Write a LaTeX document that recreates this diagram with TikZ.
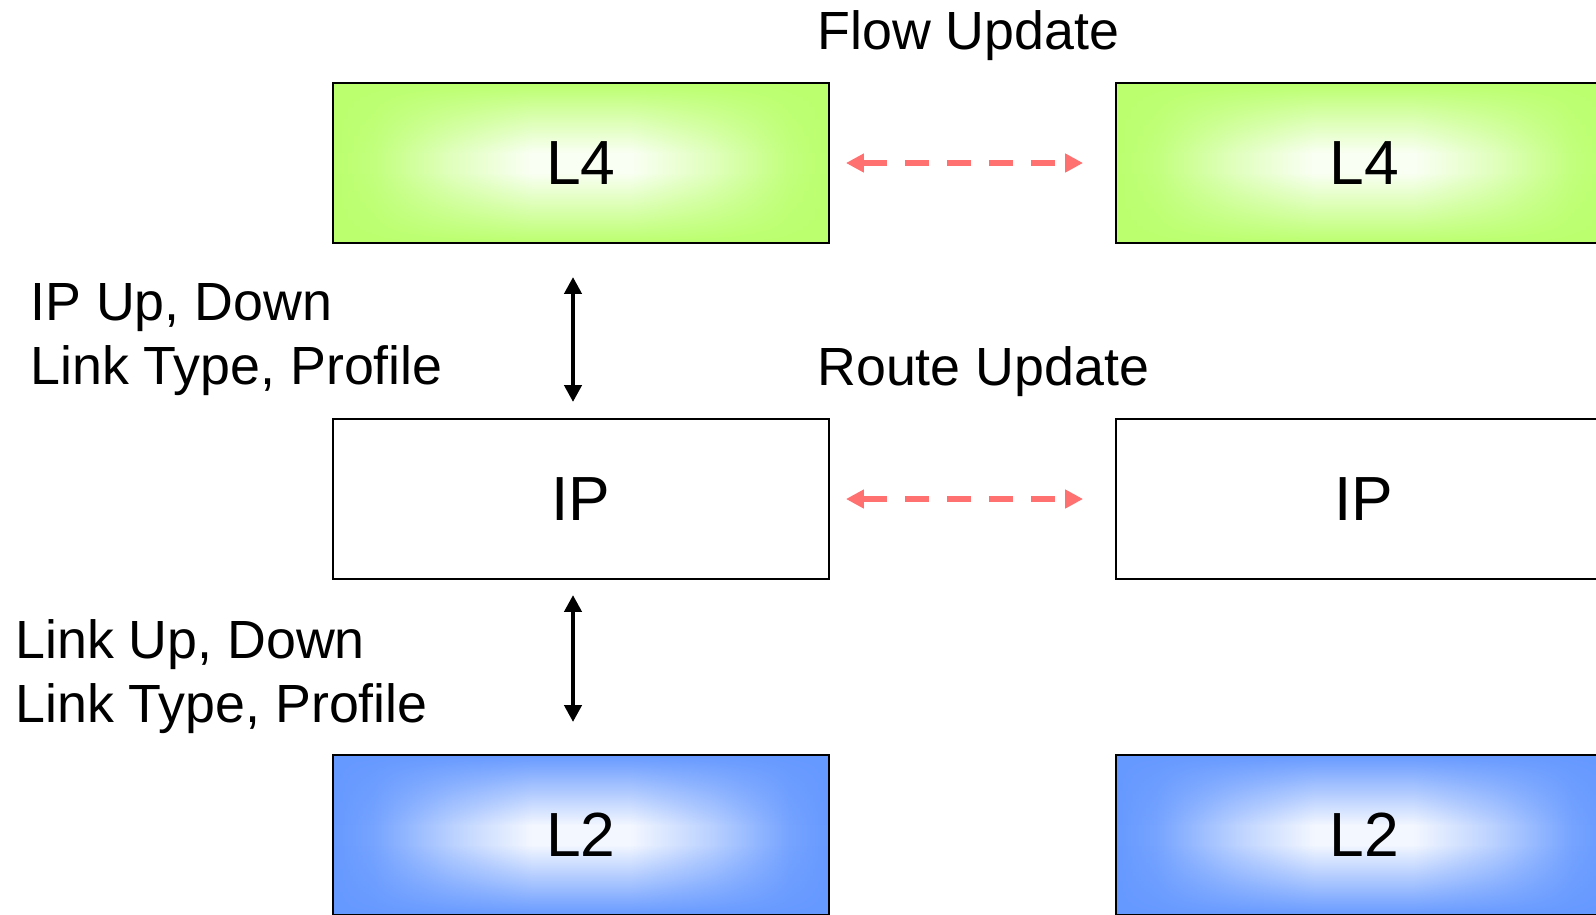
\documentclass[tikz,border=0pt]{standalone}
\usepackage{fontspec}
\setmainfont{Liberation Sans}
\usetikzlibrary{arrows.meta,
        fadings}
\definecolor{l4green}{RGB}{187,255,110}
\definecolor{l2blue}{RGB}{102,153,255}
\definecolor{updred}{RGB}{255,112,112}
\pgfdeclarehorizontalshading{l4shade}{100bp}{color(0bp)=(l4green); color(25bp)=(l4green); color(29bp)=(l4green!90!white);
    color(37bp)=(l4green!45!white); color(45bp)=(l4green!8!white); color(55bp)=(l4green!8!white); color(63bp)=(l4green!45!white);
    color(71bp)=(l4green!90!white); color(75bp)=(l4green); color(100bp)=(l4green)}
\pgfdeclarehorizontalshading{l2shade}{100bp}{color(0bp)=(l2blue); color(25bp)=(l2blue); color(29bp)=(l2blue!90!white);
    color(37bp)=(l2blue!45!white); color(45bp)=(l2blue!8!white); color(55bp)=(l2blue!8!white); color(63bp)=(l2blue!45!white);
    color(71bp)=(l2blue!90!white); color(75bp)=(l2blue); color(100bp)=(l2blue)}
\tikzfading[name=topfade, top color=transparent!0, bottom color=transparent!100]
\tikzfading[name=bottomfade, top color=transparent!100, bottom color=transparent!0]

\begin{document}
\begin{tikzpicture}[x=0.02cm, y=-0.02cm,
    layerbox/.style={draw, line width=0.04cm, minimum width=9.92cm, minimum height=3.2cm,
        inner sep=0, fill=white, font=\fontsize{35.5}{40}\selectfont},
    shadedbox/.style 2 args={layerbox, path picture={
        \shade [shading=#1]
            (path picture bounding box.south west) rectangle (path picture bounding box.north east);
        \fill [#2, path fading=topfade]
            (path picture bounding box.north west) rectangle ([yshift=-1.4cm]path picture bounding box.north east);
        \fill [#2, path fading=bottomfade]
            ([yshift=1.4cm]path picture bounding box.south west) rectangle (path picture bounding box.south east);}},
    infotext/.style={anchor=north west, align=left, inner sep=0, font=\fontsize{30.6}{36.4}\selectfont},
    updtext/.style={anchor=base west, inner sep=0, font=\fontsize{30.6}{36.4}\selectfont},
    peerarrow/.style={{Triangle[length=0.36cm,width=0.36cm]}-{Triangle[length=0.36cm,width=0.36cm]},
        updred, line width=0.12cm, dash pattern=on 0.48cm off 0.36cm},
    notearrow/.style={{Triangle[length=0.34cm,width=0.34cm]}-{Triangle[length=0.34cm,width=0.34cm]},
        line width=0.09cm}]
            \useasboundingbox (0,0) rectangle (1596,914);
            \clip (0,0) rectangle (1596,914);

            \node [shadedbox={l4shade}{l4green}] (L4a) at (581,163) {L4};
            \node [shadedbox={l4shade}{l4green}] (L4b) at (1364,163) {L4};
            \node [layerbox] (IPa) at (581,499) {IP};
            \node [layerbox] (IPb) at (1364,499) {IP};
            \node [shadedbox={l2shade}{l2blue}] (L2a) at (581,835) {L2};
            \node [shadedbox={l2shade}{l2blue}] (L2b) at (1364,835) {L2};

            \node [updtext] (flow) at (817,49) {Flow Update};
            \node [updtext] (route) at (817,385) {Route Update};
            \node [infotext] (ipinfo) at (30,283) {IP Up, Down\\Link Type, Profile};
            \node [infotext] (linkinfo) at (15,619) {Link Up, Down\\Link Type, Profile};

            \draw [peerarrow, shorten <=0.32cm, shorten >=0.64cm] (L4a.east) -- (L4b.west);
            \draw [peerarrow, shorten <=0.32cm, shorten >=0.64cm] (IPa.east) -- (IPb.west);
            \draw [notearrow, shorten <=0.66cm, shorten >=0.32cm] ([xshift=-0.16cm]L4a.south) -- ([xshift=-0.16cm]IPa.north);
            \draw [notearrow, shorten <=0.30cm, shorten >=0.64cm] ([xshift=-0.16cm]IPa.south) -- ([xshift=-0.16cm]L2a.north);
        \end{tikzpicture}
\end{document}
